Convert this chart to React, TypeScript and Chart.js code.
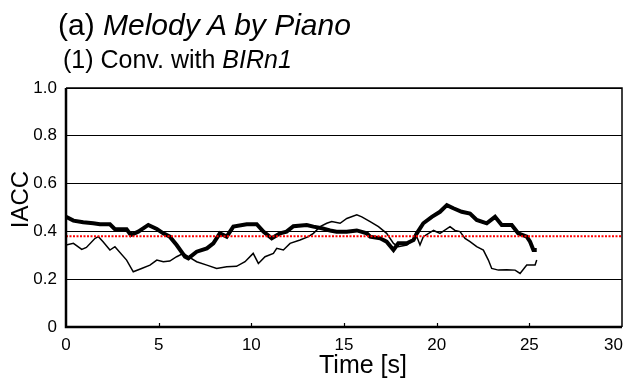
import React, { useEffect, useRef } from "react";
import { Chart, registerables } from "chart.js";

Chart.register(...registerables);

// ---- data ----
const thickTimes = [
  0, 0.4, 0.93, 1.47, 1.83, 2.37, 2.64, 3.27, 3.5, 3.9, 4.44, 4.9, 5.25, 5.6, 5.97, 6.42, 6.6, 7.05, 7.6, 7.95,
  8.3, 8.67, 9.03, 9.75, 10.29, 10.65, 11.1, 11.55, 11.9, 12.27, 12.99, 13.35, 13.8, 14.25, 14.6, 15.15, 15.69,
  16.23, 16.41, 16.95, 17.3, 17.67, 17.93, 18.39, 18.75, 18.93, 19.28, 19.74, 20.18, 20.55, 20.9, 21.35, 21.8,
  22.16, 22.7, 23.15, 23.51, 24.05, 24.4, 24.86, 25.04, 25.22, 25.4,
];
const thickValues = [
  0.461, 0.445, 0.438, 0.434, 0.43, 0.43, 0.409, 0.409, 0.385, 0.399, 0.427, 0.41, 0.392, 0.378, 0.343, 0.294,
  0.287, 0.315, 0.329, 0.35, 0.392, 0.378, 0.42, 0.43, 0.43, 0.399, 0.371, 0.392, 0.399, 0.422, 0.427, 0.42,
  0.413, 0.404, 0.399, 0.399, 0.404, 0.392, 0.378, 0.371, 0.357, 0.322, 0.35, 0.35, 0.364, 0.392, 0.434, 0.461,
  0.482, 0.51, 0.497, 0.482, 0.475, 0.448, 0.434, 0.461, 0.427, 0.427, 0.392, 0.378, 0.357, 0.322, 0.322,
];
const thinTimes = [
  0, 0.4, 0.85, 1.1, 1.57, 1.75, 2.0, 2.37, 2.64, 3.27, 3.63, 4.08, 4.53, 4.9, 5.25, 5.6, 5.97, 6.33, 6.6, 7.05,
  7.6, 8.13, 8.67, 9.2, 9.66, 10.1, 10.38, 10.74, 11.19, 11.37, 11.73, 12.09, 12.63, 13.08, 13.35, 13.71, 14.07,
  14.34, 14.79, 15.15, 15.69, 15.96, 16.41, 16.86, 17.3, 17.67, 17.93, 18.39, 18.93, 19.1, 19.28, 19.83, 20.18,
  20.72, 20.99, 21.26, 21.53, 21.8, 22.16, 22.52, 22.79, 22.97, 23.33, 23.78, 24.23, 24.5, 24.86, 25.31, 25.4,
];
const thinValues = [
  0.343, 0.35, 0.325, 0.333, 0.371, 0.378, 0.357, 0.322, 0.336, 0.28, 0.231, 0.245, 0.259, 0.28, 0.273, 0.276,
  0.294, 0.308, 0.294, 0.273, 0.259, 0.245, 0.252, 0.254, 0.273, 0.308, 0.266, 0.294, 0.308, 0.329, 0.322, 0.35,
  0.364, 0.378, 0.392, 0.42, 0.434, 0.441, 0.434, 0.454, 0.469, 0.461, 0.441, 0.42, 0.392, 0.35, 0.336, 0.343,
  0.378, 0.343, 0.378, 0.404, 0.392, 0.42, 0.404, 0.399, 0.371, 0.357, 0.336, 0.322, 0.28, 0.245, 0.238, 0.24,
  0.238, 0.224, 0.259, 0.259, 0.28,
];
const meanValue = 0.38;
const meanTimes = [0, 30];
const xTickValues = [0, 5, 10, 15, 20, 25, 30];
const yTickValues = [0, 0.2, 0.4, 0.6, 0.8, 1.0];
const xTitle = "Time [s]";
const yTitle = "IACC";

const FONT = "'Liberation Sans', Arial, Helvetica, sans-serif";

const framePlugin = {
  id: "frame",
  afterDraw(chart: any) {
    const { ctx, chartArea: a, scales } = chart;
    ctx.save();
    ctx.strokeStyle = "#000";
    ctx.lineWidth = 1.2;
    for (const t of xTickValues.slice(1, -1)) {
      const x = Math.round(scales.x.getPixelForValue(t)) + 0.5;
      ctx.beginPath();
      ctx.moveTo(x, a.bottom);
      ctx.lineTo(x, a.bottom - 4);
      ctx.stroke();
    }
    ctx.lineWidth = 1.5;
    ctx.beginPath();
    ctx.moveTo(a.left, a.top);
    ctx.lineTo(a.right, a.top);
    ctx.lineTo(a.right, a.bottom);
    ctx.stroke();
    ctx.lineWidth = 2.5;
    ctx.beginPath();
    ctx.moveTo(a.left, a.top);
    ctx.lineTo(a.left, a.bottom);
    ctx.lineTo(a.right, a.bottom);
    ctx.stroke();

    // x tick labels
    ctx.fillStyle = "#000";
    ctx.font = `17px ${FONT}`;
    ctx.textAlign = "center";
    ctx.textBaseline = "alphabetic";
    for (const v of xTickValues) {
      const label = String(v);
      const w = ctx.measureText(label).width;
      let x = scales.x.getPixelForValue(v);
      x = Math.min(x, chart.width - 1 - w / 2);
      ctx.fillText(label, x, a.bottom + 23);
    }
    // x title
    ctx.font = `25px ${FONT}`;
    ctx.fillText(xTitle, (a.left + a.right) / 2 + 19, a.bottom + 46);
    // y title
    ctx.translate(28, (a.top + a.bottom) / 2 - 8);
    ctx.rotate(-Math.PI / 2);
    ctx.font = `24px ${FONT}`;
    ctx.fillText(yTitle, 0, 0);
    ctx.restore();
  },
};

export default function App() {
  const ref = useRef<HTMLCanvasElement | null>(null);

  useEffect(() => {
    if (!ref.current) return;
    const toPts = (ts: number[], vs: number[]) => ts.map((t, i) => ({ x: t, y: vs[i] }));
    const chart = new Chart(ref.current, {
      type: "line",
      data: {
        datasets: [
          {
            data: meanTimes.map((t) => ({ x: t, y: meanValue })),
            borderColor: "rgb(255,0,0)",
            borderWidth: 2,
            borderDash: [2, 1.5],
            pointRadius: 0,
          },
          {
            data: toPts(thinTimes, thinValues),
            borderColor: "#000",
            borderWidth: 1.5,
            pointRadius: 0,
            tension: 0,
          },
          {
            data: toPts(thickTimes, thickValues),
            borderColor: "#000",
            borderWidth: 4,
            pointRadius: 0,
            tension: 0,
          },
        ],
      },
      options: {
        animation: false,
        responsive: false,
        layout: { padding: { left: 0, top: 88, right: 2, bottom: 0 } },
        plugins: { legend: { display: false }, tooltip: { enabled: false } },
        scales: {
          x: {
            type: "linear",
            min: 0,
            max: 30,
            afterBuildTicks: (s: any) => {
              s.ticks = xTickValues.map((v) => ({ value: v }));
            },
            afterFit: (s: any) => {
              s.height = 54;
              s.paddingLeft = 0;
              s.paddingRight = 0;
            },
            grid: { display: false, drawTicks: false },
            border: { display: false },
            ticks: { display: false },
            title: { display: false },
          },
          y: {
            min: 0,
            max: 1,
            afterBuildTicks: (s: any) => {
              s.ticks = yTickValues.map((v) => ({ value: v }));
            },
            afterFit: (s: any) => {
              s.width = 66;
            },
            grid: { color: "#000", lineWidth: 1, drawTicks: false },
            border: { display: false },
            ticks: {
              color: "#000",
              font: { family: FONT, size: 17 },
              padding: 9,
              autoSkip: false,
              callback: (v: any) => (Number(v) === 0 ? "0" : Number(v).toFixed(1)),
            },
            title: { display: false },
          },
        },
      },
      plugins: [framePlugin],
    });
    return () => chart.destroy();
  }, []);

  return (
    <div style={{ position: "fixed", left: 0, top: 0, width: 624, height: 381, background: "#fff" }}>
      <canvas ref={ref} width={624} height={381} style={{ position: "absolute", left: 0, top: 0 }} />
      <div
        style={{
          position: "absolute",
          left: 58,
          top: 10,
          fontFamily: FONT,
          fontSize: 30,
          lineHeight: "30px",
          whiteSpace: "nowrap",
          color: "#000",
        }}
      >
        (a) <i>Melody A by Piano</i>
      </div>
      <div
        style={{
          position: "absolute",
          left: 63,
          top: 47,
          fontFamily: FONT,
          fontSize: 25,
          lineHeight: "25px",
          whiteSpace: "nowrap",
          color: "#000",
        }}
      >
        (1) Conv. with <i>BIRn1</i>
      </div>
    </div>
  );
}
